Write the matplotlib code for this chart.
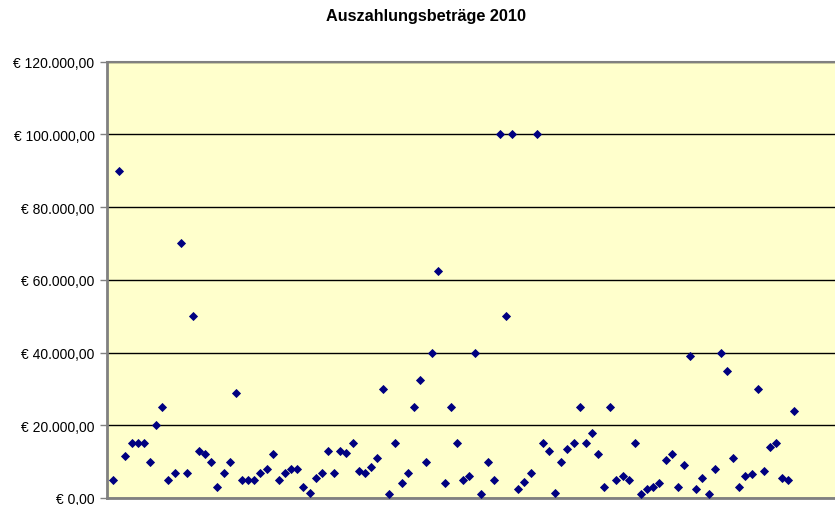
import matplotlib
matplotlib.use("Agg")
import matplotlib.pyplot as plt
from matplotlib.ticker import FuncFormatter

# Auszahlungsbeträge, in order of payment
betraege = [
    5000, 90000, 11500, 15000, 15000, 15000, 10000, 20000, 25000, 5000,
    7000, 70000, 7000, 50000, 13000, 12000, 10000, 3000, 7000, 10000,
    29000, 5000, 5000, 5000, 7000, 8000, 12000, 5000, 7000, 8000,
    8000, 3000, 1500, 5500, 7000, 13000, 7000, 13000, 12500, 15000,
    7500, 7000, 8500, 11000, 30000, 1000, 15000, 4000, 7000, 25000,
    32500, 10000, 40000, 62500, 4000, 25000, 15000, 5000, 6000, 40000,
    1000, 10000, 5000, 100000, 50000, 100000, 2500, 4500, 7000, 100000,
    15000, 13000, 1500, 10000, 13500, 15000, 25000, 15000, 18000, 12000,
    3000, 25000, 5000, 6000, 5000, 15000, 1000, 2500, 3000, 4000,
    10500, 12000, 3000, 9000, 39000, 2500, 5500, 1000, 8000, 40000,
    35000, 11000, 3000, 6000, 6500, 30000, 7500, 14000, 15000, 5500,
    5000, 24000,
]
nummer = list(range(1, len(betraege) + 1))
y_ticks = [0, 20000, 40000, 60000, 80000, 100000, 120000]


def euro(v, pos=None):
    s = f"{v:,.2f}".replace(",", "X").replace(".", ",").replace("X", ".")
    return "\u20ac " + s


def main():
    plt.rcParams['font.family'] = ['Liberation Sans', 'DejaVu Sans']
    fig = plt.figure(figsize=(8.35, 5.06), dpi=100)
    ax = fig.add_axes([107 / 835, 1 - 499 / 506, 1 - 107 / 835, (499 - 62.6) / 506])
    ax.set_facecolor('#ffffcc')

    ax.plot(nummer, betraege, linestyle='none', marker='D', markersize=4.2,
            color='#000080', markeredgewidth=0.6, zorder=3, clip_on=False)

    ax.set_xlim(0, 118.6)
    ax.set_ylim(0, 120000)
    ax.set_yticks(y_ticks)
    ax.yaxis.set_major_formatter(FuncFormatter(euro))
    ax.set_xticks([])
    ax.grid(axis='y', color='black', linewidth=1)
    ax.set_axisbelow(True)

    for side in ['left', 'bottom']:
        ax.spines[side].set_color('#808080')
        ax.spines[side].set_linewidth(2)
    ax.spines['top'].set_color('#808080')
    ax.spines['top'].set_linewidth(1.5)
    ax.spines['right'].set_visible(False)
    ax.tick_params(axis='y', length=5, width=1, color='#808080', pad=4, labelsize=10)

    fig.text(426 / 835, 1 - 16 / 506, 'Auszahlungsbeträge 2010', ha='center', va='center',
             fontsize=11.7, fontweight='bold')

    fig.savefig('out.png', dpi=100, facecolor='white')


if __name__ == '__main__':
    main()
